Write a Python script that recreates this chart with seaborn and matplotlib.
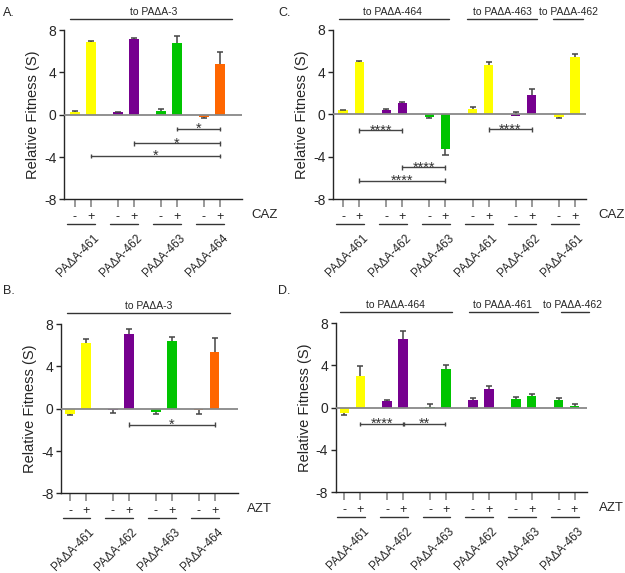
import numpy as np
import pandas as pd
import seaborn as sns
import matplotlib.pyplot as plt

sns.set_style("ticks")
plt.rcParams['font.family'] = ['Liberation Sans', 'DejaVu Sans']

# colours by strain
palette = {"461": "#ffff00", "462": "#76008f", "463": "#00c400", "464": "#ff6600"}

# A. CAZ, relative to PAdA-3
a_strains = ["461", "462", "463", "464"]
a_minus = [0.25, 0.22, 0.35, -0.2]
a_minus_sem = [0.1, 0.08, 0.15, -0.12]
a_plus = [6.87, 7.2, 6.74, 4.79]
a_plus_sem = [0.13, 0.05, 0.69, 1.16]

# B. AZT, relative to PAdA-3
b_strains = ["461", "462", "463", "464"]
b_minus = [-0.5, -0.08, -0.32, -0.15]
b_minus_sem = [-0.13, -0.3, -0.18, -0.32]
b_plus = [6.2, 7.05, 6.4, 5.35]
b_plus_sem = [0.35, 0.45, 0.34, 1.3]

# C. CAZ, relative to 464 / 463 / 462
c_strains = ["461", "462", "463", "461", "462", "461"]
c_minus = [0.38, 0.38, -0.25, 0.47, -0.13, -0.25]
c_minus_sem = [0.06, 0.09, -0.09, 0.22, 0.32, -0.13]
c_plus = [4.95, 1.03, -3.3, 4.67, 1.85, 5.42]
c_plus_sem = [0.13, 0.16, -0.56, 0.31, 0.56, 0.28]

# D. AZT, relative to 464 / 461 / 462
d_strains = ["461", "462", "463", "462", "463", "463"]
d_minus = [-0.54, 0.63, 0.1, 0.72, 0.85, 0.76]
d_minus_sem = [-0.15, 0.09, 0.25, 0.19, 0.13, 0.18]
d_plus = [3.02, 6.52, 3.69, 1.8, 1.13, 0.19]
d_plus_sem = [0.88, 0.72, 0.34, 0.25, 0.13, 0.12]

panels = [
    dict(letter="A.", strains=a_strains, minus=a_minus, minus_sem=a_minus_sem,
         plus=a_plus, plus_sem=a_plus_sem, drug="CAZ",
         rect=[0.1024, 0.652, 0.2848, 0.2955], xlim=(-0.435, 3.70),
         headers=[("to PA\u0394A-3", -0.295, 3.47, 1.65)],
         sigs=[(2, 3, -1.35, "*"), (1, 3, -2.7, "*"), (0, 3, -3.9, "*")]),
    dict(letter="B.", strains=b_strains, minus=b_minus, minus_sem=b_minus_sem,
         plus=b_plus, plus_sem=b_plus_sem, drug="AZT",
         rect=[0.0976, 0.139, 0.2832, 0.2955], xlim=(-0.396, 3.73),
         headers=[("to PA\u0394A-3", -0.256, 3.54, 1.64)],
         sigs=[(1, 3, -1.5, "*")]),
    dict(letter="C.", strains=c_strains, minus=c_minus, minus_sem=c_minus_sem,
         plus=c_plus, plus_sem=c_plus_sem, drug="CAZ",
         rect=[0.5328, 0.6527, 0.4043, 0.2955], xlim=(-0.425, 5.44),
         headers=[("to PA\u0394A-464", -0.285, 2.27, 0.96),
                  ("to PA\u0394A-463", 2.68, 4.31, 3.5),
                  ("to PA\u0394A-462", 4.68, 5.38, 5.04)],
         sigs=[(0, 1, -1.5, "****"), (1, 2, -5.0, "****"), (0, 2, -6.27, "****"),
               (3, 4, -1.41, "****")]),
    dict(letter="D.", strains=d_strains, minus=d_minus, minus_sem=d_minus_sem,
         plus=d_plus, plus_sem=d_plus_sem, drug="AZT",
         rect=[0.5371, 0.1408, 0.4016, 0.2955], xlim=(-0.39, 5.47),
         headers=[("to PA\u0394A-464", -0.29, 2.32, 1.0),
                  ("to PA\u0394A-461", 2.72, 4.33, 3.5),
                  ("to PA\u0394A-462", 4.86, 5.53, 5.15)],
         sigs=[(0, 1, -1.54, "****"), (1.03, 1.97, -1.54, "**")]),
]

OFF = 0.186     # half distance between - and + bars
AX_H = 169.0    # axes height in pixels

fig = plt.figure(figsize=(6.25, 5.73), dpi=100)


def px(p):
    # pixel offset -> axes fraction (vertical)
    return p / AX_H


for p in panels:
    ax = fig.add_axes(p["rect"])
    n = len(p["strains"])
    groups = np.arange(n)
    rows = []
    for g in groups:
        rows.append((g - OFF, p["minus"][g], p["minus_sem"][g], p["strains"][g], "-"))
        rows.append((g + OFF, p["plus"][g], p["plus_sem"][g], p["strains"][g], "+"))
    df = pd.DataFrame(rows, columns=["pos", "val", "sem", "strain", "drug"])

    sns.barplot(data=df, x="pos", y="val", hue="strain", palette=palette,
                native_scale=True, dodge=False, width=0.6, errorbar=None,
                saturation=1, linewidth=0, legend=False, ax=ax, zorder=2)

    # one-sided SEM whiskers
    tips = df["val"] + df["sem"]
    ax.vlines(df["pos"], df["val"], tips, color="#444444", lw=1.1, zorder=3)
    ax.hlines(tips, df["pos"] - 0.07, df["pos"] + 0.07, color="#444444", lw=1.1, zorder=3)

    ax.axhline(0, color="#888888", lw=1.3, zorder=4)

    ax.set_ylim(-8, 8)
    ax.set_xlim(*p["xlim"])
    ax.set_yticks([8, 4, 0, -4, -8])
    ax.set_yticklabels(["8", "4", "0", "-4", "-8"])
    ax.set_xticks(df["pos"])
    ax.set_xticklabels(df["drug"])
    ax.tick_params(axis="x", length=6, color="#888888", width=1.2, pad=2.5,
                   labelsize=9, labelcolor="#222222")
    ax.tick_params(axis="y", length=3.5, width=1, labelsize=10, pad=2)
    ax.set_xlabel("")
    ax.set_ylabel("Relative Fitness (S)", fontsize=10.5, labelpad=3)
    sns.despine(ax=ax)
    ax.spines["left"].set_linewidth(1)
    ax.spines["bottom"].set_linewidth(1)
    ax.spines["bottom"].set_color("#222222")

    xt = ax.get_xaxis_transform()
    # drug label
    ax.text(1.05, -px(16), p["drug"], transform=ax.transAxes, ha="left",
            va="center", fontsize=9.5)
    # underlines and strain names
    for g in groups:
        ax.plot([g - 0.36, g + 0.29], [-px(25), -px(25)], transform=xt,
                color="#333333", lw=1, clip_on=False)
        ax.text(g + 0.24, -px(33), "PA\u0394A-" + p["strains"][g], transform=xt,
                rotation=45, rotation_mode="anchor", ha="right", va="top",
                fontsize=8.5)

    # group headers
    for text, x0, x1, xc in p["headers"]:
        ax.plot([x0, x1], [1 + px(11), 1 + px(11)], transform=xt,
                color="#333333", lw=1, clip_on=False)
        ax.text(xc, 1 + px(13), text, transform=xt, ha="center", va="bottom",
                fontsize=7.5)

    # significance brackets between "+" bars
    for g0, g1, y, lab in p["sigs"]:
        x0, x1 = g0 + OFF, g1 + OFF
        ax.plot([x0, x1], [y, y], color="#444444", lw=1, zorder=3)
        ax.vlines([x0, x1], y - 0.22, y + 0.22, color="#444444", lw=1, zorder=3)
        ax.annotate(lab, xy=((x0 + x1) / 2, y), xytext=(0, -3),
                    textcoords="offset points", ha="center", va="baseline",
                    fontsize=10.5, color="#333333")

# panel letters
fig.text(0.005, 0.987, "A.", fontsize=9, va="top")
fig.text(0.445, 0.987, "C.", fontsize=9, va="top")
fig.text(0.005, 0.502, "B.", fontsize=9, va="top")
fig.text(0.445, 0.502, "D.", fontsize=9, va="top")

fig.savefig("out.png", dpi=100)
